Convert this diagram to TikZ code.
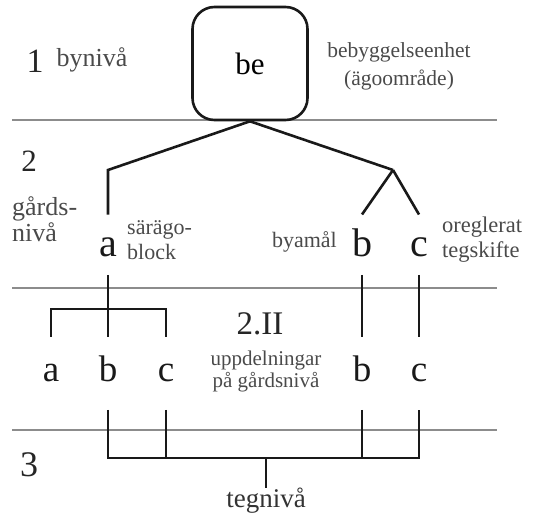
\documentclass[tikz,border=0pt]{standalone}
\usepackage{fontspec}
\setmainfont{Liberation Serif}
\usetikzlibrary{positioning}

\definecolor{labelgray}{HTML}{4A4A4A}
\definecolor{rulegray}{HTML}{8C8C8C}

\tikzset{
  level/.style={draw=rulegray, line width=1.2pt},
  branch/.style={draw=black!90, line width=2.6pt},
  number/.style={text=black!85, inner sep=0pt},
  note/.style={text=labelgray, inner sep=0pt, align=center},
  toprow/.style={text=black!90, font=\fontsize{40}{42}\selectfont,
    text height=24pt, text depth=0pt, inner xsep=0pt, inner ysep=18pt, anchor=base},
  lowrow/.style={text=black!90, font=\fontsize{37}{39}\selectfont,
    text height=27pt, text depth=10pt, inner xsep=0pt, inner ysep=18pt, anchor=base},
  unitbox/.style={draw=black!90, line width=2.6pt, rounded corners=22pt,
    minimum width=115pt, minimum height=113pt, font=\fontsize{31}{33}\selectfont}
}

\begin{document}
\begin{tikzpicture}[x=1pt, y=-1pt]
\useasboundingbox (0,0) rectangle (553,521);

% level rules
\draw[level] (12,120) -- (497,120);
\draw[level] (12,288) -- (497,288);
\draw[level] (12,430) -- (497,430);

% level 1
\node[unitbox] (be) at (250,63.5) {be};
\node[number, font=\fontsize{34}{36}\selectfont] (n1) at (35,61) {1};
\node[note, font=\fontsize{26}{28}\selectfont] (byniva) at (92,60) {bynivå};
\node[note, font=\fontsize{21.5}{28}\selectfont] (ego) at (399,66) {bebyggelseenhet\\(ägoområde)};

% level 2
\node[number, font=\fontsize{31}{33}\selectfont] (n2) at (29,161) {2};
\node[note, font=\fontsize{26}{26}\selectfont, align=left, anchor=west] (gards) at (12,219) {gårds-\\nivå};
\node[toprow] (a1) at (108,256.7) {a};
\node[toprow] (b1) at (362,256.7) {b};
\node[toprow] (c1) at (419,256.7) {c};
\node[note, font=\fontsize{22}{25}\selectfont, align=left, anchor=west] (sar) at (127,240) {särägo-\\block};
\node[note, font=\fontsize{22}{23}\selectfont, anchor=east] (byamal) at (337,242) {byamål};
\node[note, font=\fontsize{22.5}{25}\selectfont, align=left, anchor=west] (oregl) at (442,240) {oreglerat\\tegskifte};

\coordinate (ka) at (108,170);
\coordinate (kbc) at (393,170);
\draw[branch] (be.south) -- (ka) -- (a1.north);
\draw[branch] (be.south) -- (kbc);
\draw[branch] (kbc) -- (b1.north);
\draw[branch] (kbc) -- (c1.north);

% level 2.II
\node[number, font=\fontsize{33}{35}\selectfont] (n2ii) at (260,324) {2.II};
\node[note, font=\fontsize{21}{22}\selectfont] (uppd) at (266,371) {uppdelningar\\på gårdsnivå};
\node[lowrow] (a2) at (51,381.7) {a};
\node[lowrow] (b2) at (108,381.7) {b};
\node[lowrow] (c2) at (166,381.7) {c};
\node[lowrow] (b3) at (362,381.7) {b};
\node[lowrow] (c3) at (419,381.7) {c};

\coordinate (kab) at (108,309);
\draw[branch] (a1.south) -- (b2.north);
\draw[branch] (a2.north) |- (kab) -| (c2.north);
\draw[branch] (b1.south) -- (b3.north);
\draw[branch] (c1.south) -- (c3.north);

% level 3
\node[number, font=\fontsize{36}{38}\selectfont] (n3) at (29,465) {3};
\node[note, font=\fontsize{27}{28}\selectfont, text=black!80] (teg) at (266,501) {tegnivå};

\coordinate (kteg) at (266,458);
\draw[branch] (b2.south) |- (kteg) -| (c3.south);
\draw[branch] (c2.south) -- (c2.south |- kteg);
\draw[branch] (b3.south) -- (b3.south |- kteg);
\draw[branch] (kteg) -- (teg.north);
\end{tikzpicture}
\end{document}
